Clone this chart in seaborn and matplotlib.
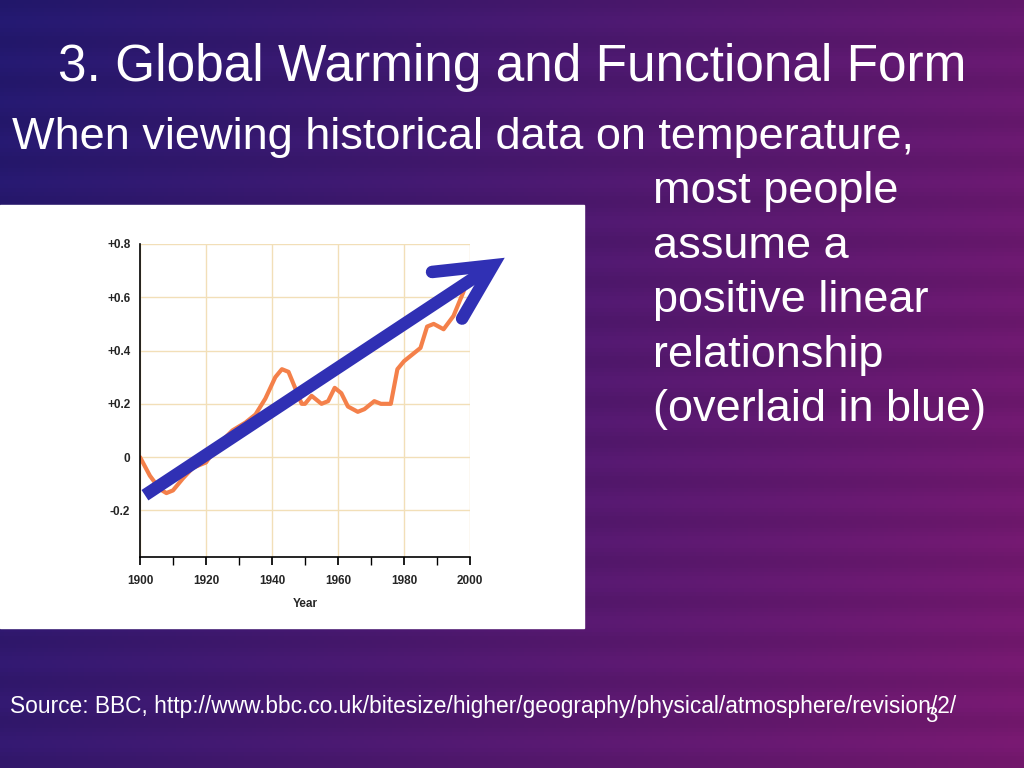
import numpy as np
import matplotlib
matplotlib.use("Agg")
import matplotlib.pyplot as plt
import seaborn as sns
import pandas as pd

years = [1900,1903,1906,1908,1910,1913,1916,1920,1924,1928,1932,1935,1938,1941,1943,1945,1947,1949,1950,1952,1953,1955,1957,1959,1961,1963,1966,1968,1971,1973,1976,1978,1980,1985,1987,1989,1992,1995,1998,1999]
temps = [0,-0.07,-0.12,-0.135,-0.125,-0.08,-0.04,-0.02,0.05,0.1,0.13,0.16,0.22,0.3,0.33,0.32,0.26,0.2,0.2,0.23,0.22,0.2,0.21,0.26,0.24,0.19,0.17,0.18,0.21,0.2,0.2,0.33,0.36,0.41,0.49,0.5,0.48,0.53,0.62,0.66]
yticks = [-0.2,0,0.2,0.4,0.6,0.8]
ylabels = ["-0.2","0","+0.2","+0.4","+0.6","+0.8"]
xticks = [1900,1920,1940,1960,1980,2000]
arrow_x = [1901.5, 2007]
arrow_y = [-0.143, 0.72]

sns.set_theme(style="white")
plt.rcParams['font.family'] = ['Liberation Sans', 'DejaVu Sans']
fig = plt.figure(figsize=(10.24,7.68), dpi=100)

# background
bg = fig.add_axes([0,0,1,1]); bg.set_axis_off()
h, w = 192, 256
yy, xx = np.mgrid[0:1:h*1j, 0:1:w*1j]
c1 = np.array([0.14,0.10,0.45]); c2 = np.array([0.48,0.10,0.45])
t = np.clip(xx*0.8 + yy*0.2, 0, 1)[..., None]
img = c1*(1-t) + c2*t
img = img*(0.93+0.07*np.sin(yy*60)[...,None]**2)
bg.imshow(img, extent=[0,1,0,1], aspect='auto', transform=bg.transAxes)
bg.set_xlim(0,1); bg.set_ylim(0,1)
bg.add_patch(plt.Rectangle((0, 1-628/768), 584/1024, 423/768, color='white', transform=bg.transAxes))

fig.text(58/1024, 1-68/768, "3. Global Warming and Functional Form", color='white', fontsize=37, va='center')
fig.text(12/1024, 1-137/768, "When viewing historical data on temperature,", color='white', fontsize=32.5, va='center')
for i, s in enumerate(["most people","assume a","positive linear","relationship","(overlaid in blue)"]):
    fig.text(653/1024, 1-(192+54.5*i)/768, s, color='white', fontsize=32.5, va='center')
fig.text(10/1024, 1-707/768, "Source: BBC, http://www.bbc.co.uk/bitesize/higher/geography/physical/atmosphere/revision/2/", color='white', fontsize=16.4, va='center')
fig.text(925/1024, 1-717/768, "3", color='white', fontsize=16, va='center')

ax = fig.add_axes([140/1024, 1-557/768, 330/1024, 313/768])
df = pd.DataFrame({"Year": years, "T": temps})
sns.lineplot(data=df, x="Year", y="T", ax=ax, color="#f4804a", lw=3)
ax.set_xlim(1900, 2000); ax.set_ylim(-0.375, 0.8)
ax.set_xticks(xticks); ax.set_xticks(range(1910,2000,10), minor=True)
ax.set_yticks(yticks); ax.set_yticklabels(ylabels)
ax.tick_params(labelsize=8.5, length=0, pad=7)
for lab in ax.get_xticklabels()+ax.get_yticklabels(): lab.set_fontweight('bold')
ax.tick_params(axis='x', which='both', bottom=True, length=6, direction='out', color='black')
ax.grid(True, color='#f2dfb8', lw=1)
ax.set_ylabel("")
ax.set_xlabel("Year", fontsize=8.5, fontweight='bold', labelpad=8)
for s in ['top','right']: ax.spines[s].set_visible(False)
for s in ['left','bottom']: ax.spines[s].set_color('black'); ax.spines[s].set_linewidth(1.2)
ax.plot(arrow_x, arrow_y, color='#3030b4', lw=9, solid_capstyle='butt', clip_on=False)
ax.plot([1988.5, 2007, 1997.6], [0.695, 0.72, 0.52], color='#3030b4', lw=9, solid_capstyle='round', solid_joinstyle='miter', clip_on=False)

fig.savefig("out.png", dpi=100)
